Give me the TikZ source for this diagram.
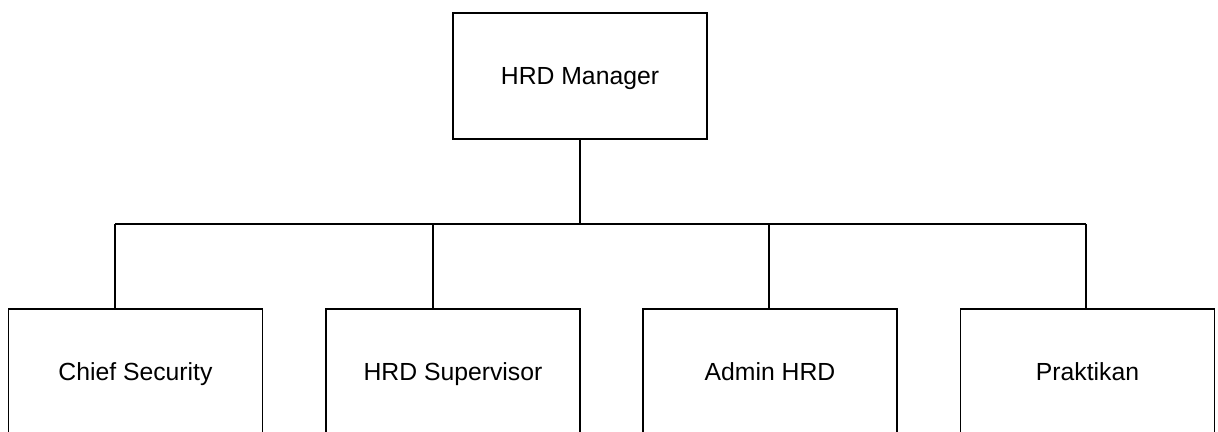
\documentclass[tikz,border=0pt]{standalone}
\usepackage{fontspec}
\setmainfont{Liberation Sans}
\usetikzlibrary{positioning}

\tikzset{
  unitbox/.style={draw, line width=1.2pt, inner sep=0pt,
    minimum width=6.35cm, minimum height=3.15cm,
    text height=15.6pt, text depth=3pt,
    font=\fontsize{17.6}{20}\selectfont},
  link/.style={line width=1.2pt}
}

\begin{document}
\begin{tikzpicture}[x=0.025cm, y=-0.025cm]
  % page size of the chart (pixels of the original)
  \def\barY{224}
  \def\rowY{372}
  \useasboundingbox (0,0) rectangle (1218,432);

  % the head of the unit
  \node[unitbox] (mgr) at (580,76) {HRD Manager};

  % the bar that joins all staff
  \coordinate (barL) at (115,\barY);
  \coordinate (barR) at (1086,\barY);
  \draw[link] (mgr.south) -- (mgr.south |- barL);
  \draw[link] (barL) -- (barR);

  % staff boxes and their drops
  \foreach \name/\cx/\dx/\txt in {cs/135.5/115/Chief Security,
                                  sup/453/433/HRD Supervisor,
                                  adm/770/769/Admin HRD,
                                  prk/1087.5/1086/Praktikan} {
    \node[unitbox] (\name) at (\cx,\rowY) {\txt};
    \coordinate (drop\name) at (\dx,\barY);
    \draw[link] (drop\name) -- (drop\name |- \name.north);
  }
\end{tikzpicture}
\end{document}
